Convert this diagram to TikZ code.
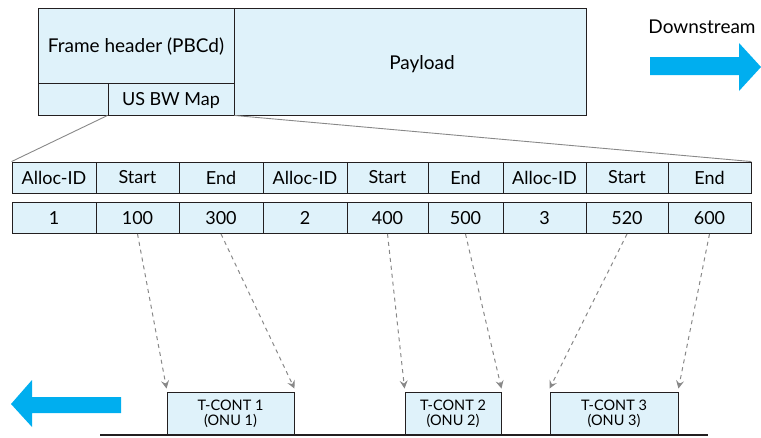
\documentclass[tikz,border=0pt]{standalone}
\usepackage{fontspec}
\setmainfont{Lato}
\usetikzlibrary{arrows.meta}
\definecolor{cellfill}{HTML}{DFF2FA}
\definecolor{flowcyan}{HTML}{00AEEF}
\definecolor{edge}{HTML}{231F20}
\definecolor{linkgray}{HTML}{888888}
\tikzset{
  cell/.style={draw=edge, fill=cellfill, line width=0.9pt, inner sep=0pt,
    font=\fontsize{18}{20}\selectfont},
  tcont/.style={draw=edge, fill=cellfill, line width=0.9pt, inner sep=0pt,
    align=center, font=\fontsize{14.5}{15}\selectfont},
  bigtext/.style={font=\fontsize{19}{21}\selectfont},
  zoomline/.style={draw=linkgray, line width=0.9pt},
  slotarrow/.style={draw=linkgray, line width=1pt, dash pattern=on 4pt off 4pt,
    -{Stealth[length=8pt,width=8pt,inset=3pt,fill=linkgray]}},
  flowarrow/.style={fill=flowcyan},
}
\begin{document}
\begin{tikzpicture}[x=1pt,y=-1pt]
\useasboundingbox (0,0) rectangle (761,437);

% downstream frame: header with bandwidth map, then payload
\node[cell, minimum width=196pt, minimum height=75pt] (hdr) at (136,45.5) {};
\node[bigtext] at (136,47) {Frame header (PBCd)};
\node[cell, minimum width=70pt, minimum height=32pt] (hpad) at (73,99) {};
\node[cell, minimum width=126pt, minimum height=32pt] (us) at (171,99) {};
\node[font=\fontsize{18}{20}\selectfont] at (171,101) {US BW Map};
\node[cell, minimum width=352pt, minimum height=107pt] (pay) at (410,61.5) {};
\node[bigtext] at (422,64) {Payload};

% direction markers
\node[bigtext] (down) at (702,27) {Downstream};
\fill[flowarrow] (650,57) -- (739,57) -- (739,43) -- (761,67) -- (739,91)
  -- (739,75) -- (650,75) -- cycle;
\fill[flowarrow] (121,397) -- (32,397) -- (32,380) -- (11,404) -- (32,427)
  -- (32,413) -- (121,413) -- cycle;

% bandwidth map entries: labels and values
\foreach \i/\xa/\xb/\ta/\tb in {1/12/96/Alloc-ID/1, 2/96/179/Start/100,
    3/179/263/End/300, 4/263/347/Alloc-ID/2, 5/347/428/Start/400,
    6/428/503/End/500, 7/503/586/Alloc-ID/3, 8/586/668/Start/520,
    9/668/751/End/600}{
  \node[cell, minimum width=\xb pt-\xa pt, minimum height=31pt]
    (h\i) at ({(\xa+\xb)/2},177.5) {\ta};
  \node[cell, minimum width=\xb pt-\xa pt, minimum height=31pt]
    (v\i) at ({(\xa+\xb)/2},218) {\tb};
}

% the map expands into the table
\draw[zoomline] (us.south west) -- (h1.north west);
\draw[zoomline] (us.south east) -- (h9.north east);

% upstream transmission slots
\coordinate (busl) at (100,435);
\coordinate (busr) at (708,435);
\node[tcont, minimum width=127pt, minimum height=43pt] (t1) at (230.5,413.5) {T-CONT 1\\(ONU 1)};
\node[tcont, minimum width=96pt, minimum height=43pt] (t2) at (453,413.5) {T-CONT 2\\(ONU 2)};
\node[tcont, minimum width=128pt, minimum height=43pt] (t3) at (614,413.5) {T-CONT 3\\(ONU 3)};
\draw[edge, line width=1.6pt] (busl) -- (busr);

% start/end pointers into the slots
\draw[slotarrow] (v2.south) -- ([yshift=3pt]t1.north west);
\draw[slotarrow] (v3.south) -- ([yshift=3pt]t1.north east);
\draw[slotarrow] (v5.south) -- ([yshift=3pt]t2.north west);
\draw[slotarrow] (v6.south) -- ([yshift=3pt]t2.north east);
\draw[slotarrow] (v8.south) -- ([yshift=3pt]t3.north west);
\draw[slotarrow] (v9.south) -- ([yshift=3pt]t3.north east);
\end{tikzpicture}
\end{document}
